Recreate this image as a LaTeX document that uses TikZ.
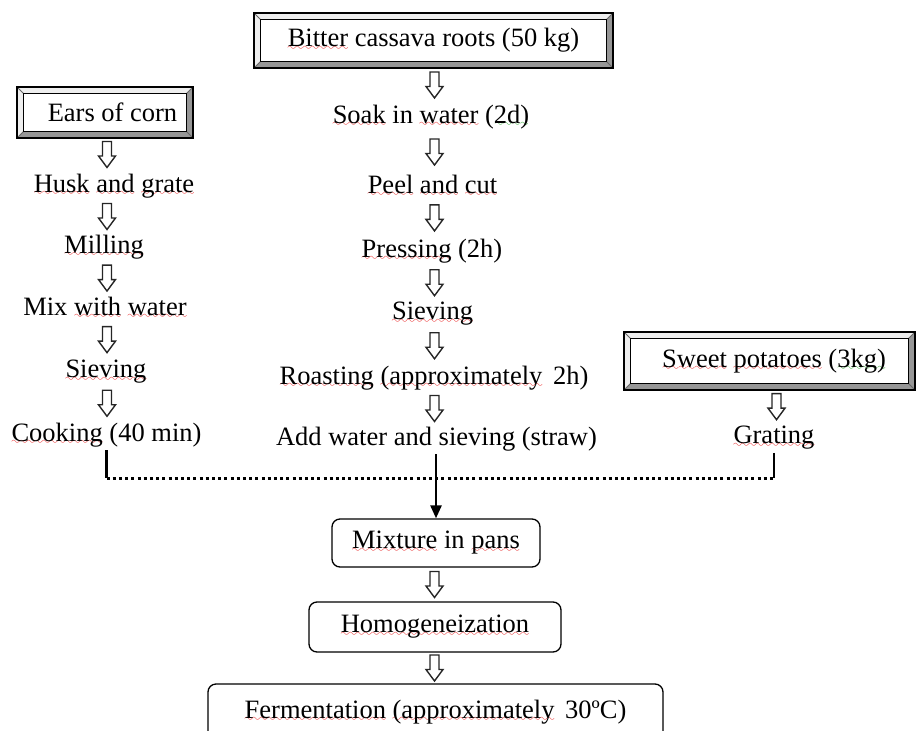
\documentclass[tikz,border=0pt]{standalone}
\usepackage{fontspec}
\setmainfont{Liberation Serif}
\usetikzlibrary{calc,arrows.meta}

\definecolor{spellred}{RGB}{232,30,30}
\definecolor{gramgreen}{RGB}{40,165,40}
\definecolor{bevdark}{RGB}{150,150,150}
\definecolor{bevlight}{RGB}{238,238,238}

% wavy proofing underlines, built from a repeated wave glyph
\font\wavefont=lasy10 at 11pt
\newcommand\wavemark[2]{\setbox0=\hbox{#2}%
  \rlap{\color{#1}\lower3.5pt\hbox to \wd0{\xleaders\hbox{\wavefont\char58}\hfil}}\box0\relax}
\newcommand\sq[1]{\wavemark{spellred}{#1}}
\newcommand\sqg[1]{\wavemark{gramgreen}{#1}}

% raised 3D frame drawn around a named node
\newcommand\bevelframe[1]{%
  \fill[bevlight] (#1.north west) -- (#1.north east) -- ([shift={(-7,7)}]#1.north east) -- ([shift={(7,7)}]#1.north west) -- cycle;
  \fill[bevlight] (#1.north west) -- (#1.south west) -- ([shift={(7,-7)}]#1.south west) -- ([shift={(7,7)}]#1.north west) -- cycle;
  \fill[bevdark] (#1.south west) -- (#1.south east) -- ([shift={(-7,-7)}]#1.south east) -- ([shift={(7,-7)}]#1.south west) -- cycle;
  \fill[bevdark] (#1.north east) -- (#1.south east) -- ([shift={(-7,-7)}]#1.south east) -- ([shift={(-7,7)}]#1.north east) -- cycle;
  \draw[black!60, line width=0.8pt] (#1.north west) -- ++(7,7) (#1.north east) -- ++(-7,7)
        (#1.south west) -- ++(7,-7) (#1.south east) -- ++(-7,-7);
  \draw[line width=1pt] ([shift={(7,7)}]#1.north west) rectangle ([shift={(-7,-7)}]#1.south east);
  \draw[line width=1.8pt] (#1.north west) rectangle (#1.south east);
}

% hollow down arrow placed halfway between two nodes, on a given column
\newcommand\harrow[3]{%
  \path (#1.south) -- coordinate[midway] (m-#1) (#2.north);
  \pic at (m-#1 -| #3) {hdown};
}

\begin{document}
\begin{tikzpicture}[x=1pt,y=-1pt,
  txt/.style={font=\fontsize{26.5}{30}\selectfont, inner sep=3pt},
  rbox/.style={txt, draw, rounded corners=8pt, line width=1.3pt, fill=white},
  solidln/.style={line width=2.6pt},
  dotln/.style={line width=3pt, dash pattern=on 3pt off 3.2pt},
  hdown/.pic={\draw[line width=1.4pt, draw=black!85, fill=white]
      (-4.5,-13) -- (4.5,-13) -- (4.5,1.5) -- (8.5,1.5) -- (0,13)
      -- (-8.5,1.5) -- (-4.5,1.5) -- cycle;}]
\useasboundingbox (0,0) rectangle (917,730);
\clip (0,0) rectangle (917,730);

% column axes
\coordinate (colL) at (107,0);
\coordinate (colM) at (434.5,0);
\coordinate (colR) at (776.5,0);
\coordinate (jy) at (0,478);

% framed sources
\node[txt, minimum width=359pt, minimum height=55pt] (cassava) at (433.5,40.5)
  {\sq{Bitter} cassava roots (50 kg)};
\node[txt, minimum width=176pt, minimum height=51pt] (corn) at (105,112.5)
  {\hspace*{15pt}Ears of corn};
\node[txt, minimum width=291pt, minimum height=58pt] (sweet) at (769.5,361)
  {\hspace*{9pt}\sq{Sweet} \sq{potatoes} (\sqg{3kg)}};
\bevelframe{cassava}
\bevelframe{corn}
\bevelframe{sweet}

% corn branch
\node[txt] (husk) at (114,186) {\sq{Husk} \sq{and} \sq{grate}};
\node[txt] (milling) at (104,247) {\sq{Milling}};
\node[txt] (mix) at (105,308) {Mix \sq{with} \sq{water}};
\node[txt] (sievL) at (106,372) {\sq{Sieving}};
\node[txt] (cooking) at (106.5,435) {\sq{Cooking} (40 min)};

% cassava branch
\node[txt] (soak) at (431,117) {\sq{Soak} in \sq{water} (\sqg{2d)}};
\node[txt] (peel) at (432.5,186) {\sq{Peel} \sq{and} \sq{cut}};
\node[txt] (press) at (432,251) {\sq{Pressing} (2h)};
\node[txt] (sievM) at (432.5,314) {\sq{Sieving}};
\node[txt] (roast) at (434,378) {\sq{Roasting} \sq{(approximately}\hspace{4pt} 2h)};
\node[txt] (addw) at (436.5,439) {Add water and sieving (straw)};

% sweet potato branch
\node[txt] (grating) at (774,438) {\sq{Grating}};

% common steps
\node[rbox, minimum width=208pt, minimum height=48pt] (mixture) at (436,543) {\sq{Mixture} in \sq{pans}};
\node[rbox, minimum width=252pt, minimum height=50pt] (homog) at (435,627) {\sq{Homogeneization}};
\node[rbox, minimum width=455pt, minimum height=56pt] (ferm) at (435.5,712)
  {\sq{Fermentation} \sq{(approximately}\hspace{4pt} 30ºC)};

% hollow step arrows
\harrow{corn}{husk}{colL}
\harrow{husk}{milling}{colL}
\harrow{milling}{mix}{colL}
\harrow{mix}{sievL}{colL}
\harrow{sievL}{cooking}{colL}
\harrow{cassava}{soak}{colM}
\harrow{soak}{peel}{colM}
\harrow{peel}{press}{colM}
\harrow{press}{sievM}{colM}
\harrow{sievM}{roast}{colM}
\harrow{roast}{addw}{colM}
\harrow{sweet}{grating}{colR}
\harrow{mixture}{homog}{colM}
\harrow{homog}{ferm}{colM}

% joining lines
\draw[solidln] (cooking.south) -- (cooking.south |- jy) coordinate (jl);
\draw[solidln] (grating.south) -- (grating.south |- jy) coordinate (jr);
\draw[dotln] (jl) -- (jr);
\draw[solidln, -{Triangle[width=11pt,length=13pt]}] (addw.south -| mixture.north) -- (mixture.north);
\end{tikzpicture}
\end{document}
